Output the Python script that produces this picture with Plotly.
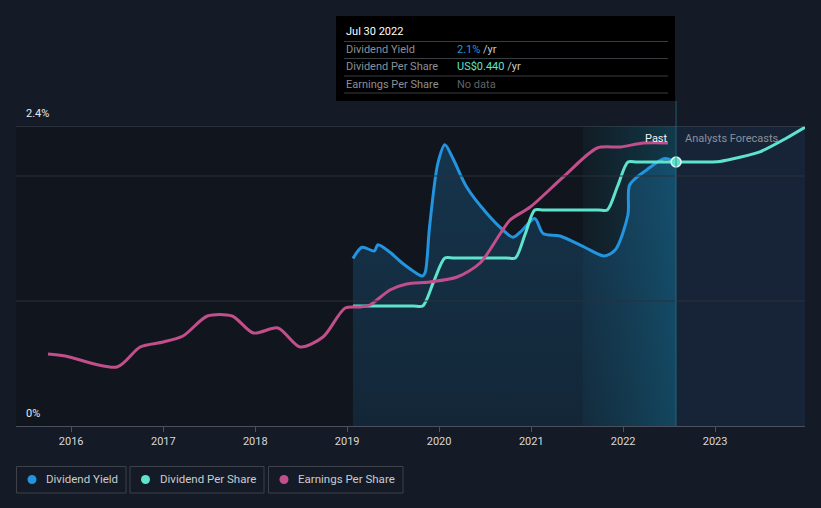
import plotly.graph_objects as go

# ---------------- data ----------------
YIELD_DATES = ["2019-01-24", "2019-03-01", "2019-04-19", "2019-05-03", "2019-06-20", "2019-08-10",
               "2019-10-27", "2019-11-07", "2019-11-24", "2019-12-27", "2020-01-24", "2020-02-25",
               "2020-04-20", "2020-07-09", "2020-09-10", "2020-10-20", "2020-11-18", "2021-01-15",
               "2021-02-17", "2021-04-25", "2021-08-01", "2021-10-18", "2021-12-01", "2022-01-20",
               "2022-01-27", "2022-04-05", "2022-06-15", "2022-07-30"]
YIELD_VALUES = [1.34, 1.43, 1.40, 1.45, 1.39, 1.30,
                1.20, 1.23, 1.59, 2.10, 2.25, 2.14,
                1.91, 1.70, 1.57, 1.51, 1.55, 1.66,
                1.54, 1.52, 1.43, 1.36, 1.41, 1.69,
                1.93, 2.05, 2.14, 2.11]

DPS_DATES = ["2019-01-24", "2019-09-20", "2019-10-28", "2019-12-10", "2020-01-24", "2020-03-01",
             "2020-09-25", "2020-10-30", "2020-12-08", "2021-01-15", "2021-02-20",
             "2021-09-25", "2021-10-30", "2021-12-10", "2022-01-20", "2022-02-25", "2022-07-30"]
DPS_VALUES = [0.20, 0.20, 0.20, 0.24, 0.28, 0.28,
              0.28, 0.28, 0.32, 0.36, 0.36,
              0.36, 0.36, 0.40, 0.44, 0.44, 0.44]

DPS_FC_DATES = ["2022-07-30", "2022-10-15", "2023-01-20", "2023-06-28", "2023-10-12", "2023-12-24"]
DPS_FC_VALUES = [0.44, 0.44, 0.441, 0.457, 0.48, 0.498]

EPS_DATES = ["2015-10-01", "2015-12-08", "2016-07-01", "2016-10-01", "2017-01-01", "2017-03-20",
             "2017-06-25", "2017-10-01", "2017-12-25", "2018-04-01", "2018-06-28", "2018-09-27",
             "2018-12-24", "2019-02-22", "2019-04-01", "2019-06-20", "2019-08-25", "2019-11-25",
             "2020-03-13", "2020-06-12", "2020-08-30", "2020-10-09", "2020-12-28", "2021-05-08",
             "2021-09-20", "2021-12-20", "2022-03-22", "2022-06-28"]
EPS_VALUES = [0.72, 0.70, 0.59, 0.79, 0.84, 0.90,
              1.10, 1.10, 0.93, 0.98, 0.79, 0.89,
              1.18, 1.19, 1.21, 1.36, 1.42, 1.44,
              1.49, 1.63, 1.92, 2.06, 2.19, 2.49,
              2.78, 2.79, 2.83, 2.83]

YEAR_TICKS = ["2016-01-01", "2017-01-01", "2018-01-01", "2019-01-01",
              "2020-01-01", "2021-01-01", "2022-01-01", "2023-01-01"]
YEAR_LABELS = ["2016", "2017", "2018", "2019", "2020", "2021", "2022", "2023"]

X_START, X_END = "2015-05-27", "2023-12-24"
PAST_START, TODAY = "2021-07-25", "2022-07-30"
YIELD_MAX, DPS_MAX, EPS_MAX = 2.4, 0.5, 3.0

# ---------------- styling ----------------
BLUE = "#2394df"
TEAL = "#5ee3cc"
PINK = "#c24f8b"
PAPER = "#151b26"
PLOT = "#11161e"
FONT = "Roboto"

W, H = 821, 508
ML, MR, MT, MB = 16, 16, 126, 82
PW, PH = W - ML - MR, H - MT - MB


def px(x):
    return (x - ML) / PW


def py(y):
    return (H - MB - y) / PH


fig = go.Figure()

# past band (horizontal gradient)
fig.add_trace(go.Scatter(
    x=[PAST_START, TODAY, TODAY, PAST_START, PAST_START],
    y=[0, 0, YIELD_MAX, YIELD_MAX, 0],
    mode="lines", line=dict(width=0), fill="toself",
    fillgradient=dict(type="horizontal",
                      colorscale=[[0, "rgba(20,90,110,0.10)"], [1, "rgba(15,110,140,0.42)"]]),
    hoverinfo="skip", showlegend=False))

# dividend yield area + line
fig.add_trace(go.Scatter(
    x=YIELD_DATES, y=YIELD_VALUES, mode="lines",
    line=dict(color=BLUE, width=3, shape="spline", smoothing=0.8),
    fill="tozeroy",
    fillgradient=dict(type="vertical",
                      colorscale=[[0, "rgba(35,148,223,0.13)"], [1, "rgba(35,148,223,0.24)"]]),
    name="Dividend Yield", hoverinfo="skip", showlegend=False))

# EPS
fig.add_trace(go.Scatter(
    x=EPS_DATES, y=EPS_VALUES, yaxis="y3", mode="lines",
    line=dict(color=PINK, width=3, shape="spline", smoothing=0.8),
    name="Earnings Per Share", hoverinfo="skip", showlegend=False))

# DPS past + forecast
fig.add_trace(go.Scatter(
    x=DPS_DATES, y=DPS_VALUES, yaxis="y2", mode="lines",
    line=dict(color=TEAL, width=3, shape="spline", smoothing=0.8),
    name="Dividend Per Share", hoverinfo="skip", showlegend=False))
fig.add_trace(go.Scatter(
    x=DPS_FC_DATES, y=DPS_FC_VALUES, yaxis="y2", mode="lines",
    line=dict(color=TEAL, width=3, shape="spline", smoothing=0.6),
    hoverinfo="skip", showlegend=False))
fig.add_trace(go.Scatter(
    x=[DPS_DATES[-1]], y=[DPS_VALUES[-1]], yaxis="y2", mode="markers",
    marker=dict(color=TEAL, size=10, line=dict(color="#dff7f2", width=1.5)),
    hoverinfo="skip", showlegend=False))

shapes = []
# forecast band
shapes.append(dict(type="rect", xref="x", yref="y", x0=TODAY, x1=X_END, y0=0, y1=YIELD_MAX,
                   fillcolor="#172437", line=dict(width=0), layer="below"))
# grid lines
for gv, col in [(1.0, "#2b303a"), (2.0, "#2b303a"), (YIELD_MAX, "#454a54")]:
    shapes.append(dict(type="line", xref="paper", yref="y", x0=0, x1=1, y0=gv, y1=gv,
                       line=dict(color=col, width=1), layer="above"))
# today line
shapes.append(dict(type="line", xref="x", yref="paper", x0=TODAY, x1=TODAY, y0=0, y1=py(101),
                   line=dict(color="rgba(40,120,140,0.7)", width=1)))
# tooltip box
shapes.append(dict(type="rect", xref="paper", yref="paper", x0=px(336), x1=px(675),
                   y0=py(101), y1=py(16), fillcolor="#000000", line=dict(width=0)))
for ly in [41.5, 58.5, 76, 93]:
    shapes.append(dict(type="line", xref="paper", yref="paper", x0=px(344), x1=px(668),
                       y0=py(ly), y1=py(ly), line=dict(color="#3a3d42", width=1)))

annotations = []


def ann(text, x, y, color, size=11, anchor="left", xref="paper", xshift=0):
    annotations.append(dict(text=text, x=x, y=y, xref=xref, yref="paper", showarrow=False,
                            xanchor=anchor, yanchor="middle", xshift=xshift,
                            font=dict(family=FONT, size=size, color=color)))


ann("2.4%", px(24), py(114), "#e6e8eb")
ann("0%", px(24), py(413), "#e6e8eb")
ann("Past", TODAY, py(138), "#f2f3f5", size=11, anchor="right", xref="x", xshift=-6)
ann("Analysts Forecasts", TODAY, py(138), "#8b9099", size=11, anchor="left", xref="x", xshift=7)

# tooltip texts
ann("Jul 30 2022", px(344), py(31), "#ffffff", size=11)
ann("Dividend Yield", px(344), py(49.5), "#8b9097", size=11)
ann("Dividend Per Share", px(344), py(66.5), "#8b9097", size=11)
ann("Earnings Per Share", px(344), py(84), "#8b9097", size=11)
ann(f"<span style='color:{BLUE}'>2.1%</span> /yr", px(455), py(49.5), "#c6c9ce", size=11)
ann(f"<span style='color:{TEAL}'>US$0.440</span> /yr", px(455), py(66.5), "#c6c9ce", size=11)
ann("No data", px(455), py(84), "#5f636a", size=11)

# legend boxes
LEG_NAMES = ["Dividend Yield", "Dividend Per Share", "Earnings Per Share"]
LEG_COLORS = [BLUE, TEAL, PINK]
LEG_BOX = [(16.5, 126), (130, 264), (268.5, 403)]
for name, col, (bx0, bx1) in zip(LEG_NAMES, LEG_COLORS, LEG_BOX):
    shapes.append(dict(type="rect", xref="paper", yref="paper", x0=px(bx0), x1=px(bx1),
                       y0=py(493), y1=py(466.5), line=dict(color="#3c414a", width=1),
                       fillcolor="rgba(0,0,0,0)"))
    cx = bx0 + 15.5
    shapes.append(dict(type="circle", xref="paper", yref="paper", x0=px(cx - 4.5), x1=px(cx + 4.5),
                       y0=py(479.5 + 4.5), y1=py(479.5 - 4.5), fillcolor=col, line=dict(width=0)))
    ann(name, px(bx0 + 27.5), py(479.5), "#c9ccd1", size=11.5)

fig.update_layout(
    width=W, height=H, autosize=False,
    margin=dict(l=ML, r=MR, t=MT, b=MB),
    paper_bgcolor=PAPER, plot_bgcolor=PLOT,
    hovermode=False, showlegend=False,
    font=dict(family=FONT, color="#d5d8dd", size=11),
    xaxis=dict(type="date", range=[X_START, X_END], tickvals=YEAR_TICKS, ticktext=YEAR_LABELS,
               showgrid=False, zeroline=False, showline=True, linecolor="#4b505a", linewidth=1,
               ticks="outside", ticklen=5, tickcolor="#4b505a",
               tickfont=dict(family=FONT, size=11, color="#d5d8dd")),
    yaxis=dict(range=[0, YIELD_MAX], showgrid=False, zeroline=False, showticklabels=False,
               fixedrange=True),
    yaxis2=dict(range=[0, DPS_MAX], overlaying="y", showgrid=False, zeroline=False,
                showticklabels=False),
    yaxis3=dict(range=[0, EPS_MAX], overlaying="y", showgrid=False, zeroline=False,
                showticklabels=False),
    shapes=shapes, annotations=annotations,
)

fig.write_html("out.html")
